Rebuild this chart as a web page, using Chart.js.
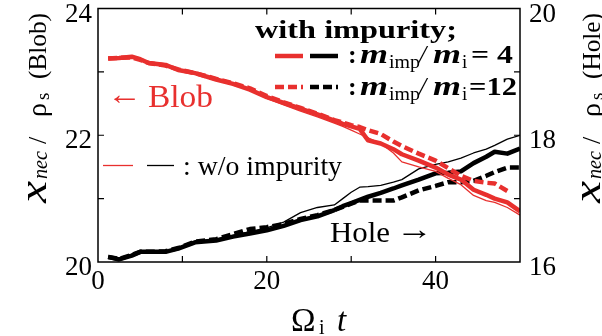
<!DOCTYPE html>
<html>
<head>
<meta charset="utf-8">
<script src="https://cdn.jsdelivr.net/npm/chart.js@4"></script>
<style>
  html, body { margin: 0; padding: 0; background: #fff; }
  canvas { display: block; }
</style>
</head>
<body>
<canvas id="c" width="602" height="336"></canvas>
<script>
// Time axis (Omega_i t) shared by all series
const timeSteps = [1.2, 2.5, 4, 5, 6, 8, 9.5, 11.5, 14, 16, 18, 20, 22, 24, 26, 28, 29, 30, 31, 32, 33.5, 35, 36, 38, 40, 41.5, 43, 44.5, 46, 47, 48.5, 50];

// Blob position x_nec / rho_s (left axis)
const blobImp4 = [23.21, 23.22, 23.24, 23.20, 23.14, 23.11, 23.03, 22.98, 22.88, 22.81, 22.72, 22.60, 22.51, 22.42, 22.33, 22.23, 22.18, 22.14, 22.10, 21.92, 21.87, 21.78, 21.70, 21.60, 21.49, 21.38, 21.30, 21.14, 21.06, 21.00, 20.94, 20.80];
const blobImp12 = [23.21, 23.22, 23.23, 23.19, 23.14, 23.10, 23.04, 22.98, 22.89, 22.82, 22.74, 22.62, 22.52, 22.43, 22.34, 22.24, 22.20, 22.16, 22.13, 22.08, 22.02, 21.90, 21.83, 21.71, 21.60, 21.48, 21.36, 21.28, 21.25, 21.24, 21.12, null];
const blobNoImp = [23.21, 23.22, 23.24, 23.19, 23.13, 23.10, 23.03, 22.97, 22.87, 22.80, 22.71, 22.58, 22.48, 22.38, 22.29, 22.19, 22.14, 22.08, 22.02, 21.96, 21.87, 21.72, 21.58, 21.50, 21.43, 21.32, 21.22, 21.05, 20.97, 20.94, 20.86, 20.74];

// Hole position x_nec / rho_s (right axis)
const holeImp4 = [16.08, 16.04, 16.10, 16.16, 16.16, 16.16, 16.21, 16.31, 16.34, 16.40, 16.45, 16.50, 16.57, 16.66, 16.72, 16.82, 16.88, 16.93, 16.98, 17.03, 17.09, 17.16, 17.21, 17.30, 17.40, 17.41, 17.43, 17.56, 17.66, 17.74, 17.71, 17.79];
const holeImp12 = [16.08, 16.05, 16.11, 16.16, 16.16, 16.17, 16.22, 16.32, 16.36, 16.44, 16.52, 16.55, 16.60, 16.68, 16.74, 16.82, 16.87, 16.92, 16.97, 16.97, 16.97, 16.97, 17.02, 17.13, 17.20, 17.26, 17.26, 17.28, 17.36, 17.42, 17.49, 17.49];
const holeNoImp = [16.08, 16.04, 16.11, 16.16, 16.17, 16.17, 16.22, 16.32, 16.36, 16.42, 16.48, 16.54, 16.63, 16.78, 16.86, 16.90, 17.00, 17.10, 17.18, 17.19, 17.21, 17.26, 17.30, 17.47, 17.54, 17.58, 17.64, 17.72, 17.78, 17.84, 17.94, 18.00];

// Tick labels and tick marks
const xTickLabels = [0, 20, 40];
const xTickMarks = [10, 20, 30, 40];
const leftTickLabels = [20, 22, 24];
const leftTickMarks = [21, 22, 23];
const rightTickLabels = [16, 18, 20];
const rightTickMarks = [17, 18, 19];

const RED = '#e8302e';
const BLACK = '#000000';
const SERIF = "'Liberation Serif', 'Times New Roman', serif";

function pts(values) {
  return timeSteps.map((t, i) => ({ x: t, y: values[i] }));
}

function lineSet(label, values, axis, color, width, dash) {
  return {
    label: label,
    data: pts(values),
    yAxisID: axis,
    borderColor: color,
    borderWidth: width,
    borderDash: dash || [],
    pointRadius: 0,
    tension: 0,
    fill: false,
    spanGaps: false,
    borderCapStyle: 'butt',
    borderJoinStyle: 'round'
  };
}

function fixTicks(values) {
  return function (scale) {
    scale.ticks = values.map(v => ({ value: v }));
  };
}

function fitScale(size) {
  return function (scale) {
    if (scale.isHorizontal()) scale.height = size; else scale.width = size;
    scale.paddingTop = 0; scale.paddingBottom = 0;
    scale.paddingLeft = 0; scale.paddingRight = 0;
  };
}

// Plot frame with inward tick marks on all four sides
const framePlugin = {
  id: 'frame',
  afterDatasetsDraw(chart) {
    const { ctx, chartArea: a, scales } = chart;
    ctx.save();
    ctx.strokeStyle = BLACK;
    ctx.lineWidth = 1.5;
    ctx.strokeRect(a.left, a.top, a.right - a.left, a.bottom - a.top);
    ctx.lineWidth = 1.2;
    const tl = 6;
    ctx.beginPath();
    xTickMarks.forEach(v => {
      const px = scales.x.getPixelForValue(v);
      ctx.moveTo(px, a.bottom); ctx.lineTo(px, a.bottom - tl);
      ctx.moveTo(px, a.top); ctx.lineTo(px, a.top + tl);
    });
    leftTickMarks.forEach(v => {
      const py = scales.y.getPixelForValue(v);
      ctx.moveTo(a.left, py); ctx.lineTo(a.left + tl, py);
    });
    rightTickMarks.forEach(v => {
      const py = scales.y2.getPixelForValue(v);
      ctx.moveTo(a.right, py); ctx.lineTo(a.right - tl, py);
    });
    ctx.stroke();
    ctx.restore();
  }
};

function txt(ctx, s, x, y, font, color, targetWidth) {
  ctx.save();
  ctx.font = font;
  ctx.fillStyle = color;
  ctx.textBaseline = 'alphabetic';
  ctx.textAlign = 'left';
  ctx.translate(x, y);
  if (targetWidth) {
    const w = ctx.measureText(s).width;
    ctx.scale(targetWidth / w, 1);
  }
  ctx.fillText(s, 0, 0);
  ctx.restore();
}

function seg(ctx, x1, x2, y, color, width, dash) {
  ctx.save();
  ctx.strokeStyle = color;
  ctx.lineWidth = width;
  ctx.setLineDash(dash || []);
  ctx.beginPath();
  ctx.moveTo(x1, y); ctx.lineTo(x2, y);
  ctx.stroke();
  ctx.restore();
}

// Rotated axis title: x_nec / rho_s (name), reading bottom to top
function yTitle(ctx, baseX, startY, name) {
  ctx.save();
  ctx.translate(baseX, startY);
  ctx.rotate(-Math.PI / 2);
  txt(ctx, 'x', 0, 0, `italic 38px ${SERIF}`, BLACK, 22);
  txt(ctx, 'nec', 24, 1, `italic 20px ${SERIF}`, BLACK, 28);
  txt(ctx, '/', 59, 0, `26px ${SERIF}`, BLACK);
  txt(ctx, 'ρ', 86, 0, `28px ${SERIF}`, BLACK);
  txt(ctx, 's', 103, 3, `19px ${SERIF}`, BLACK);
  txt(ctx, `(${name})`, 124, 0, `26px ${SERIF}`, BLACK, 66);
  ctx.restore();
}

const textPlugin = {
  id: 'texts',
  afterDraw(chart) {
    const ctx = chart.ctx;
    // legend: with impurity
    txt(ctx, 'with impurity;', 255, 38, `bold 25px ${SERIF}`, BLACK, 202);
    seg(ctx, 275, 303, 56, RED, 4.5);
    seg(ctx, 310, 338, 56, BLACK, 4.5);
    seg(ctx, 275, 303, 87, RED, 4.5, [9, 4]);
    seg(ctx, 310, 338, 87, BLACK, 4.5, [9, 4]);
    [[63, '= 4', 471, 42], [95, '=12', 469, 48]].forEach(([b, eq, ex, ew]) => {
      txt(ctx, ':', 348, b, `bold 26px ${SERIF}`, BLACK);
      txt(ctx, 'm', 360, b, `bold italic 28px ${SERIF}`, BLACK, 28);
      txt(ctx, 'imp', 389, b + 5, `19px ${SERIF}`, BLACK, 31);
      txt(ctx, '/', 419, b, `italic 26px ${SERIF}`, BLACK);
      txt(ctx, 'm', 433, b, `bold italic 28px ${SERIF}`, BLACK, 28);
      txt(ctx, 'i', 462, b + 5, `19px ${SERIF}`, BLACK);
      txt(ctx, eq, ex, b, `bold 26px ${SERIF}`, BLACK, ew);
    });
    // legend: without impurity
    seg(ctx, 103, 133, 165.5, RED, 1.3);
    seg(ctx, 147, 174, 165.5, BLACK, 1.3);
    txt(ctx, ': w/o impurity', 183, 175, `27px ${SERIF}`, BLACK, 159);
    // curve labels
    txt(ctx, '←', 107, 104, `30px ${SERIF}`, RED, 35);
    txt(ctx, 'Blob', 148, 107, `31px ${SERIF}`, RED, 65);
    txt(ctx, 'Hole', 330, 242, `30px ${SERIF}`, BLACK, 60);
    txt(ctx, '→', 396, 239, `30px ${SERIF}`, BLACK, 37);
    // x axis title
    txt(ctx, 'Ω', 291, 331, `33px ${SERIF}`, BLACK);
    txt(ctx, 'i', 319, 334, `20px ${SERIF}`, BLACK);
    txt(ctx, 't', 337, 331, `italic 33px ${SERIF}`, BLACK);
    // y axis titles
    yTitle(ctx, 46, 203, 'Blob');
    yTitle(ctx, 600, 203, 'Hole');
  }
};

const tickFont = { family: SERIF, size: 27 };

new Chart(document.getElementById('c'), {
  type: 'line',
  data: {
    datasets: [
      lineSet('Blob, m_imp/m_i = 4', blobImp4, 'y', RED, 4.5),
      lineSet('Blob, m_imp/m_i = 12', blobImp12, 'y', RED, 4.5, [9, 4]),
      lineSet('Blob, w/o impurity', blobNoImp, 'y', RED, 1.3),
      lineSet('Hole, m_imp/m_i = 4', holeImp4, 'y2', BLACK, 4.5),
      lineSet('Hole, m_imp/m_i = 12', holeImp12, 'y2', BLACK, 4.5, [9, 4]),
      lineSet('Hole, w/o impurity', holeNoImp, 'y2', BLACK, 1.3)
    ]
  },
  options: {
    responsive: false,
    animation: false,
    devicePixelRatio: 1,
    layout: { padding: { top: 8.5, left: 0, right: 0, bottom: 0 } },
    plugins: { legend: { display: false }, tooltip: { enabled: false } },
    scales: {
      x: {
        type: 'linear', min: 0, max: 50,
        afterBuildTicks: fixTicks(xTickLabels),
        afterFit: fitScale(74),
        grid: { display: false, drawTicks: false },
        border: { display: false },
        ticks: { font: tickFont, color: BLACK, padding: 4, maxRotation: 0, autoSkip: false }
      },
      y: {
        type: 'linear', position: 'left', min: 20, max: 24,
        afterBuildTicks: fixTicks(leftTickLabels),
        afterFit: fitScale(98),
        grid: { display: false, drawTicks: false },
        border: { display: false },
        ticks: { font: tickFont, color: BLACK, padding: 6, labelOffset: 6, autoSkip: false }
      },
      y2: {
        type: 'linear', position: 'right', min: 16, max: 20,
        afterBuildTicks: fixTicks(rightTickLabels),
        afterFit: fitScale(82),
        grid: { display: false, drawTicks: false },
        border: { display: false },
        ticks: { font: tickFont, color: BLACK, padding: 9, labelOffset: 6, autoSkip: false }
      }
    }
  },
  plugins: [framePlugin, textPlugin]
});
</script>
</body>
</html>
